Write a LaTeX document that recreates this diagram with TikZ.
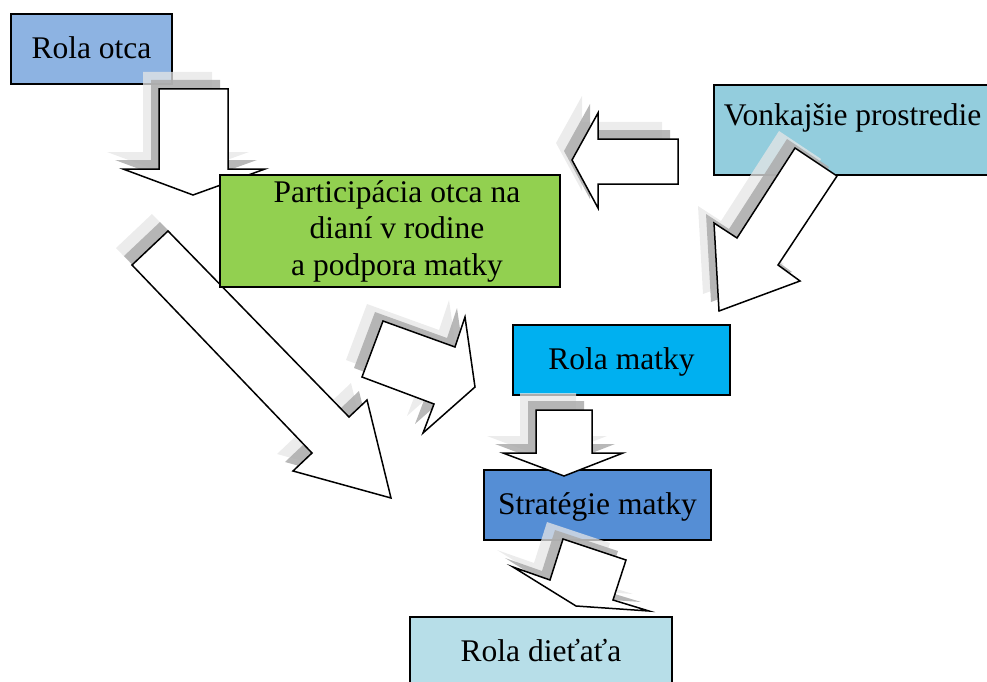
\documentclass[tikz,border=0pt]{standalone}
\usepackage{fontspec}
\setmainfont{Liberation Serif}
\definecolor{cotca}{HTML}{8DB3E2}
\definecolor{cvonk}{HTML}{93CDDD}
\definecolor{cpart}{HTML}{92D050}
\definecolor{cmatky}{HTML}{00B0F0}
\definecolor{cstrat}{HTML}{558ED5}
\definecolor{cdieta}{HTML}{B7DEE8}
\definecolor{shlight}{HTML}{E6E6E6}
\definecolor{shdark}{HTML}{ACACAC}
\newcommand{\blockarr}[1]{%
  \fill[shlight, opacity=0.75, shift={(-16,-17)}] #1 -- cycle;
  \fill[shdark, opacity=0.85, shift={(-8,-9)}] #1 -- cycle;
  \draw[fill=white, draw=black, line width=1.5pt, line join=miter] #1 -- cycle;}
\begin{document}
\begin{tikzpicture}[x=1pt,y=-1pt,
  box/.style={draw=black, line width=1.8pt, inner sep=0pt,
    font=\fontsize{31.5}{36.5}\selectfont, text height=25pt, text depth=6pt}]
\useasboundingbox (0,0) rectangle (987,682);
\clip (0,0) rectangle (987,682);
% boxes
\node[box, fill=cotca, minimum width=161pt, minimum height=70pt] (otca) at (91.5,49) {Rola otca};
\node[box, fill=cvonk, anchor=north west, inner xsep=10pt, inner ysep=16pt, text height=25pt, text depth=33pt] (vonk) at (713,84) {Vonkajšie prostredie};
\node[box, fill=cmatky, minimum width=217pt, minimum height=70pt] (matky) at (621.5,360) {Rola matky};
\node[box, fill=cstrat, minimum width=227pt, minimum height=70pt] (strat) at (597.5,505) {Stratégie matky};
\node[box, fill=cdieta, minimum width=262pt, minimum height=70pt] (dieta) at (541,652) {Rola dieťaťa};
% block arrows
\blockarr{(159,89) -- (228,89) -- (228,169) -- (265,169) -- (193,195) -- (123,169) -- (159,169)}
\blockarr{(678,139) -- (678,184) -- (598,184) -- (598,208) -- (572,160) -- (598,113) -- (598,139)}
\blockarr{(795,148) -- (837,176) -- (778,265) -- (800,281) -- (719,311) -- (714,223) -- (737,238)}
\blockarr{(168,231) -- (349,417) -- (367,400) -- (391,498) -- (293,471) -- (312,453) -- (132,265)}
\blockarr{(383,321) -- (455,347) -- (465,317) -- (475,387) -- (423,433) -- (434,404) -- (362,377)}
\blockarr{(536,410) -- (592,410) -- (592,453) -- (623,453) -- (564,476) -- (503,453) -- (536,453)}
\blockarr{(563,539) -- (626,560) -- (613,600) -- (649,611) -- (576,606) -- (513,567) -- (550,580)}
% green box on top
\node[box, fill=cpart, minimum width=340pt, minimum height=112pt, align=center, text height=, text depth=] (part) at (390,231) {\hspace*{14pt}Participácia otca na\\\hspace*{14pt}dianí v rodine\\\hspace*{14pt}a podpora matky};
\end{tikzpicture}
\end{document}
